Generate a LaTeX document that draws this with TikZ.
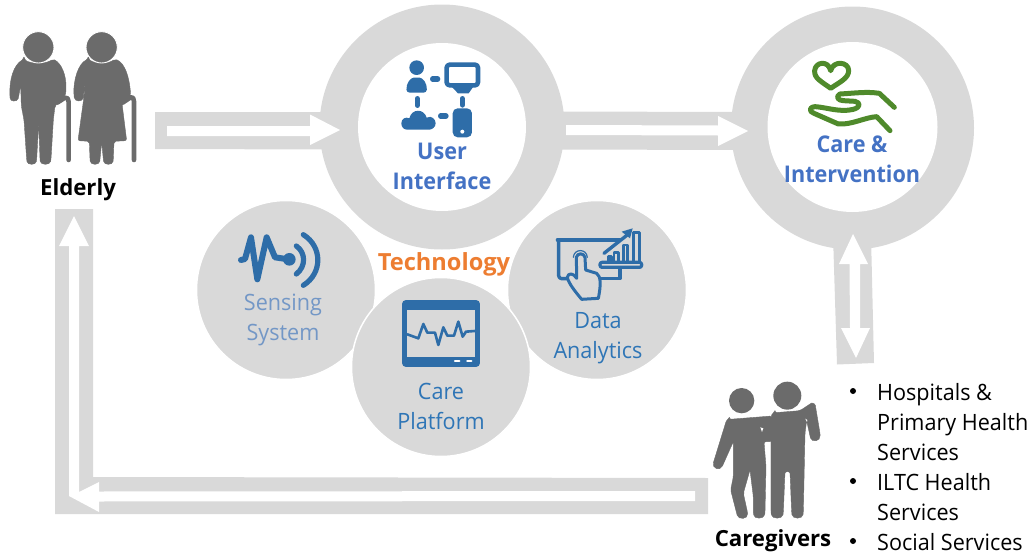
\documentclass[tikz,border=0pt]{standalone}
\usepackage{fontspec}
\setmainfont{Open Sans}
\newfontfamily\narrowfont[FakeStretch=0.96]{Open Sans}
\newfontfamily\headfont[FakeStretch=0.94]{Open Sans}
\definecolor{ringgray}{HTML}{D9D9D9}
\definecolor{figgray}{HTML}{6B6B6B}
\definecolor{iconblue}{HTML}{2E6DA8}
\definecolor{txtblue}{HTML}{2E75B6}
\definecolor{lightblue}{HTML}{7397C6}
\definecolor{headblue}{HTML}{4472C4}
\definecolor{techorange}{HTML}{ED7D31}
\definecolor{careGreen}{HTML}{4F8A2B}
\tikzset{
  tinycircle/.style={fill=ringgray,draw=white,line width=1.5pt},
  band/.style={fill=ringgray,draw=none},
  whitearrow/.style={fill=white,draw=none},
  figure/.style={fill=figgray,draw=figgray,line width=0.4pt,line join=round,rounded corners=2pt},
  cane/.style={draw=figgray,line width=4.6pt,line cap=round,line join=round},
  iconfill/.style={fill=iconblue,draw=none},
  iconline/.style={draw=iconblue,line cap=round,line join=round},
  headtext/.style={font=\headfont\fontsize{23}{30}\selectfont\bfseries,text=headblue,align=center,inner sep=0pt},
  techlabel/.style={font=\narrowfont\fontsize{22.5}{30}\selectfont,text=txtblue,align=center,inner sep=0pt},
  blacklabel/.style={font=\fontsize{22.2}{26}\selectfont\bfseries,text=black,inner sep=0pt},
  listtext/.style={font=\narrowfont\fontsize{22.5}{30}\selectfont,text=black,anchor=base west,inner sep=0pt},
}
\begin{document}
\begin{tikzpicture}[x=1pt,y=-1pt]
\useasboundingbox (0,0) rectangle (1029,554);
% small circles
\path[tinycircle] (286,290) circle (89.5);
\path[tinycircle] (597,290) circle (89.5);
% rings
\path[band] (442,127) circle (122.5);
\path[fill=white] (442,127) circle (84);
\path[band] (852.5,128) circle (121.5);
\path[fill=white] (852.5,127) circle (85);
\path[tinycircle] (441,367) circle (89.5);
% bands
\path[band] (155,112) -- (335,112) -- (335,149.5) -- (155,149) -- cycle;
\path[band] (555,111.5) -- (740,112) -- (740,150) -- (555,149.5) -- cycle;
\path[band] (833,235) -- (871,235) -- (874,363) -- (837,364.5) -- cycle;
\path[band] (55,209) -- (93,209) -- (93,477) -- (708,478) -- (708,514) -- (55,514) -- cycle;
% white arrows
\path[whitearrow] (167,126) -- (310,126) -- (310,114.5) -- (340,130) -- (310,145) -- (310,136) -- (167,136) -- cycle;
\path[whitearrow] (566,125) -- (718,125.5) -- (718,116) -- (748,131) -- (718,146) -- (718,135.5) -- (566,135) -- cycle;
\path[whitearrow] (853,234) -- (868,264) -- (860,264) -- (860,328) -- (870,328) -- (856,358) -- (841,328) -- (850,328) -- (849.5,264) -- (839,264) -- cycle;
\path[whitearrow] (74,216) -- (89,246) -- (79,246) -- (79,492) -- (99,482) -- (99,491.5) -- (695,491) -- (695,501) -- (99,501.5) -- (99,512) -- (69,496) -- (69,246) -- (59,246) -- cycle;
% elderly
\begin{scope}[xshift=0pt,yshift=-20pt,x=0.3333pt,y=-0.3333pt]
\path[figure] (72,117) .. controls (90,132) and (140,132) .. (158,117) .. controls (185,130) and (198,165) .. (198,205) .. controls (198,225) and (190,238) .. (176,245) -- (165,258) -- (160,300) -- (153,418) .. controls (150,436) and (122,436) .. (120,418) -- (116,310) -- (110,418) .. controls (108,436) and (82,436) .. (80,418) -- (72,300) -- (64,258) -- (62,195) -- (56,230) .. controls (52,246) and (30,246) .. (30,228) .. controls (28,180) and (40,135) .. (72,117) -- cycle;
\path[fill=figgray,draw=white,line width=0.9pt] (115,82) circle (47);
\draw[cane] (172,248) -- (195,233) .. controls (202,230) and (206,238) .. (206,246) -- (206,420);
\path[figure] (265,117) .. controls (285,132) and (325,132) .. (345,117) .. controls (375,130) and (388,170) .. (392,225) -- (380,248) -- (366,250) -- (380,362) -- (342,364) -- (340,418) .. controls (338,436) and (312,436) .. (310,418) -- (305,366) -- (300,418) .. controls (298,436) and (272,436) .. (270,418) -- (268,364) -- (234,362) -- (252,230) -- (258,170) -- (250,230) .. controls (246,246) and (224,246) .. (222,226) .. controls (220,180) and (235,130) .. (265,117) -- cycle;
\path[fill=figgray,draw=white,line width=0.9pt] (305,82) circle (47);
\draw[cane] (368,248) -- (392,232) .. controls (398,228) and (402,236) .. (402,244) -- (402,420);
\end{scope}
% caregivers
\begin{scope}[xshift=700pt,yshift=-370pt,x=0.3333pt,y=-0.3333pt]
\fill[figgray] (125,92) circle (38);
\fill[figgray] (262,77) circle (42);
\path[figure] (88,148) -- (215,138) -- (215,215) -- (192,215) -- (198,290) -- (195,428) .. controls (192,448) and (162,448) .. (160,428) -- (160,380) -- (150,300) -- (130,370) -- (142,425) .. controls (145,448) and (115,450) .. (110,430) -- (92,360) -- (100,320) -- (100,215) -- (70,282) .. controls (60,305) and (35,295) .. (42,272) -- (75,165) .. controls (78,155) and (80,150) .. (88,148) -- cycle;
\path[figure] (225,128) -- (300,122) -- (330,102) .. controls (340,96) and (346,105) .. (347,112) -- (360,190) .. controls (362,215) and (335,218) .. (330,198) -- (320,152) -- (315,190) -- (310,428) .. controls (307,448) and (278,448) .. (275,428) -- (270,305) -- (255,305) -- (250,428) .. controls (247,448) and (216,448) .. (213,428) -- (213,150) .. controls (213,135) and (218,130) .. (225,128) -- cycle;
\path[fill=white] (181,172) -- (190,175) -- (186,186) -- cycle;
\path[fill=white] (316,146) -- (322,150) -- (321,156) -- cycle;
\end{scope}
% UI icon
\begin{scope}[xshift=380pt,yshift=-50pt,x=0.3333pt,y=-0.3333pt]
\path[iconfill] (110,53) circle (22);
\path[iconfill,rounded corners=3pt] (80,128) .. controls (78,100) and (92,83) .. (110,83) .. controls (128,83) and (142,100) .. (140,128) -- cycle;
\draw[iconline,line width=5.3pt] (158,87) -- (173,87);
\draw[iconline,line width=5.3pt] (112,146) -- (112,166);
\draw[iconline,line width=5.3pt] (247,146) -- (247,165);
\draw[iconline,line width=5.3pt] (182,198) -- (198,198);
\draw[iconline,line width=4.6pt,rounded corners=3pt] (200,44) rectangle (294,106);
\path[iconfill] (215,110) -- (280,110) -- (266,130) -- (234,130) -- cycle;
\path[iconfill] (64,220) .. controls (64,205) and (78,200) .. (88,205) .. controls (95,175) and (132,175) .. (140,203) .. controls (155,195) and (167,208) .. (167,220) .. controls (167,232) and (155,239) .. (148,239) -- (82,239) .. controls (72,239) and (64,232) .. (64,220) -- cycle;
\path[iconfill,rounded corners=5pt] (218,175) rectangle (276,262);
\path[fill=white] (247,245) circle (6);
\end{scope}
% heart and hand
\begin{scope}[xshift=790pt,yshift=-50pt,x=0.3333pt,y=-0.3333pt]
\draw[careGreen,line width=5pt,line join=round] (122,115) .. controls (95,95) and (72,85) .. (74,62) .. controls (76,35) and (115,30) .. (122,62) .. controls (130,30) and (176,35) .. (176,62) .. controls (176,85) and (148,97) .. (122,115) -- cycle;
\draw[careGreen,line width=5pt,line cap=round,line join=round] (313,172) -- (268,130) .. controls (230,124) and (190,130) .. (150,132) .. controls (135,140) and (145,152) .. (160,152) -- (195,154) .. controls (212,158) and (212,172) .. (190,178) .. controls (150,188) and (110,172) .. (75,170) .. controls (55,172) and (58,185) .. (72,190) -- (145,222) .. controls (185,225) and (225,202) .. (260,200) -- (300,242);
\end{scope}
% sensing icon
\begin{scope}[xshift=220pt,yshift=-220pt,x=0.3333pt,y=-0.3333pt]
\draw[iconline,line width=6pt] (63,120) -- (75,117) -- (93,52) -- (112,178) -- (140,52) -- (165,112) -- (205,118);
\path[iconfill] (208,118) circle (19);
\draw[iconline,line width=5.2pt] (229,78) .. controls (258,98) and (258,140) .. (229,162);
\draw[iconline,line width=5.2pt] (250,44) .. controls (308,80) and (308,160) .. (250,196);
\end{scope}
% care platform icon
\begin{scope}[xshift=390pt,yshift=-290pt,x=0.3333pt,y=-0.3333pt]
\path[iconfill,rounded corners=4pt] (36,30) rectangle (270,231);
\path[fill=ringgray] (52,60) rectangle (254,202);
\draw[iconline,line width=2.6pt] (52,133) -- (85,145) -- (100,102) -- (112,128) -- (135,128) -- (145,165) -- (160,112) -- (172,137) -- (192,137) -- (205,95) -- (218,140) -- (228,125) -- (254,123);
\draw[white,line width=2.4pt,line cap=round] (195,213) -- (208,213);
\draw[white,line width=2.4pt,line cap=round] (232,213) -- (244,213);
\end{scope}
% data analytics icon
\begin{scope}[xshift=540pt,yshift=-220pt,x=0.3333pt,y=-0.3333pt]
\draw[iconline,line width=3.2pt,rounded corners=3pt] (52,60) -- (240,60);
\draw[iconline,line width=3.4pt,rounded corners=3pt] (90,176) -- (56,176) -- (56,60);
\draw[iconline,line width=3.2pt] (180,176) -- (240,176) -- (240,145);
\draw[fill=ringgray,draw=iconblue,line width=3pt,line join=round] (110,165) -- (109,112) .. controls (112,98) and (132,98) .. (135,112) -- (137,150) -- (170,160) .. controls (182,170) and (184,190) .. (175,235) -- (125,238) .. controls (110,220) and (85,190) .. (82,172) .. controls (84,158) and (100,158) .. (110,175) -- cycle;
\draw[iconline,line width=1.2pt] (100,112) .. controls (102,85) and (140,85) .. (142,112);
\draw[iconline,line width=3.2pt,rounded corners=2pt] (180,127) rectangle (305,142);
\draw[iconline,line width=2.8pt] (205,127) -- (205,110) -- (214,110) -- (214,127);
\draw[iconline,line width=2.8pt] (222,127) -- (222,98) -- (236,98) -- (236,127);
\draw[iconline,line width=2.8pt] (250,127) -- (250,75) -- (263,75) -- (263,127);
\draw[iconline,line width=3pt] (281,127) -- (281,36) -- (300,36) -- (300,127);
\draw[iconline,line width=3.4pt] (192,100) -- (268,40);
\path[iconfill] (245,35) -- (278,25) -- (270,55) -- cycle;
\end{scope}
% labels
\node[headtext] (ui) at (442,166) {User\\Interface};
\node[headtext] (care) at (852,159) {Care \&\\Intervention};
\node[font=\fontsize{23.6}{28}\selectfont\bfseries,text=techorange,inner sep=0pt] (tech) at (444,264) {Technology};
\node[techlabel,text=lightblue] (sens) at (283,320) {Sensing\\System};
\node[techlabel] (data) at (598,338) {Data\\Analytics};
\node[techlabel] (plat) at (441,406) {Care\\Platform};
\node[blacklabel] (eld) at (78,190) {Elderly};
\node[blacklabel] (cg) at (773,541) {Caregivers};
\node[listtext] (l1) at (877,400) {Hospitals \&};
\node[listtext] (l2) at (877,430) {Primary Health};
\node[listtext] (l3) at (877,460) {Services};
\node[listtext] (l4) at (877,490) {ILTC Health};
\node[listtext] (l5) at (877,520) {Services};
\node[listtext] (l6) at (877,550) {Social Services};
\fill[black] (853,391) circle (3);
\fill[black] (853,481) circle (3);
\fill[black] (853,541) circle (3);
\end{tikzpicture}
\end{document}
